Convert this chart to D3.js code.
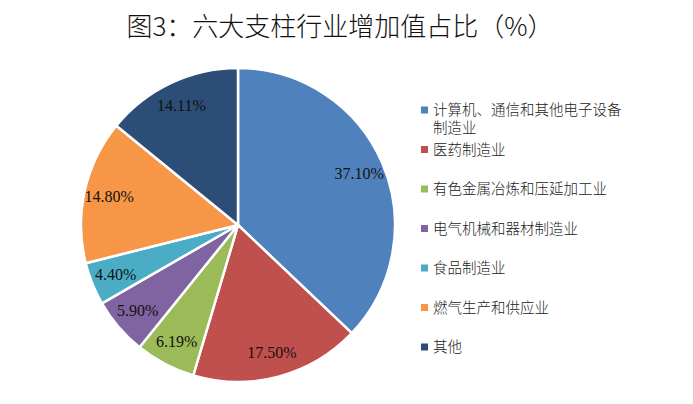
<!DOCTYPE html>
<html>
<head>
<meta charset="utf-8">
<script src="https://cdn.jsdelivr.net/npm/d3@7"></script>
<style>
  body { margin: 0; background: #fff; }
  svg { display: block; }
</style>
</head>
<body>
<div id="chart"></div>
<script>
var categories = ["计算机、通信和其他电子设备制造业", "医药制造业", "有色金属冶炼和压延加工业",
                  "电气机械和器材制造业", "食品制造业", "燃气生产和供应业", "其他"];
var values = [37.10, 17.50, 6.19, 5.90, 4.40, 14.80, 14.11];
var valueLabels = ["37.10%", "17.50%", "6.19%", "5.90%", "4.40%", "14.80%", "14.11%"];
var legendLines = [["计算机、通信和其他电子设备", "制造业"], ["医药制造业"], ["有色金属冶炼和压延加工业"],
                   ["电气机械和器材制造业"], ["食品制造业"], ["燃气生产和供应业"], ["其他"]];
var colors = ["#4F81BD", "#C0504D", "#9BBB59", "#8064A2", "#4BACC6", "#F79646", "#2C4D75"];

var width = 693, height = 404
  , cx = 238, cy = 225, radius = 157;

var svg = d3.select("#chart").append("svg")
    .attr("width", width)
    .attr("height", height);

svg.append("text")
    .attr("x", 340)
    .attr("y", 36)
    .attr("text-anchor", "middle")
    .style("font-family", "'Noto Sans CJK SC', sans-serif")
    .style("font-weight", "300")
    .style("font-size", "26px")
    .style("fill", "#111")
    .text("图3：六大支柱行业增加值占比（%）");

var data = categories.map(function(c, i) { return {name: c, value: values[i], label: valueLabels[i]}; });

var cScale = d3.scaleOrdinal().domain(categories).range(colors);

var pie = d3.pie().sort(null).value(function(d) { return d.value; });
var arc = d3.arc().innerRadius(0).outerRadius(radius);
var labelArc = d3.arc().innerRadius(radius * 0.84).outerRadius(radius * 0.84);

var g = svg.append("g").attr("transform", "translate(" + cx + "," + cy + ")");

g.selectAll("path").data(pie(data)).enter().append("path")
    .attr("d", arc)
    .attr("fill", function(d) { return cScale(d.data.name); })
    .attr("stroke", "#fff")
    .attr("stroke-width", 2.5)
    .attr("stroke-linejoin", "round");

g.selectAll("text.lbl").data(pie(data)).enter().append("text")
    .attr("class", "lbl")
    .attr("transform", function(d) { return "translate(" + labelArc.centroid(d) + ")"; })
    .attr("text-anchor", "middle")
    .attr("dy", "0.35em")
    .style("font-family", "'Liberation Serif', 'Times New Roman', serif")
    .style("font-size", "16px")
    .style("fill", "#111")
    .text(function(d) { return d.data.label; });

// legend
var lgY = d3.scalePoint().domain(categories).range([110, 347]);

var lg = svg.append("g").selectAll("g").data(data).enter().append("g")
    .attr("transform", function(d) { return "translate(421," + lgY(d.name) + ")"; });

lg.append("rect")
    .attr("x", 0).attr("y", -3.5)
    .attr("width", 7).attr("height", 7)
    .attr("fill", function(d) { return cScale(d.name); });

lg.append("text")
    .style("font-family", "'Noto Sans CJK SC', sans-serif")
    .style("font-weight", "300")
    .style("font-size", "14.5px")
    .style("fill", "#222")
    .selectAll("tspan").data(function(d, i) { return legendLines[i]; }).enter().append("tspan")
      .attr("x", 12)
      .attr("y", function(d, j) { return j * 18; })
      .attr("dy", "0.35em")
      .text(function(d) { return d; });
</script>
</body>
</html>
